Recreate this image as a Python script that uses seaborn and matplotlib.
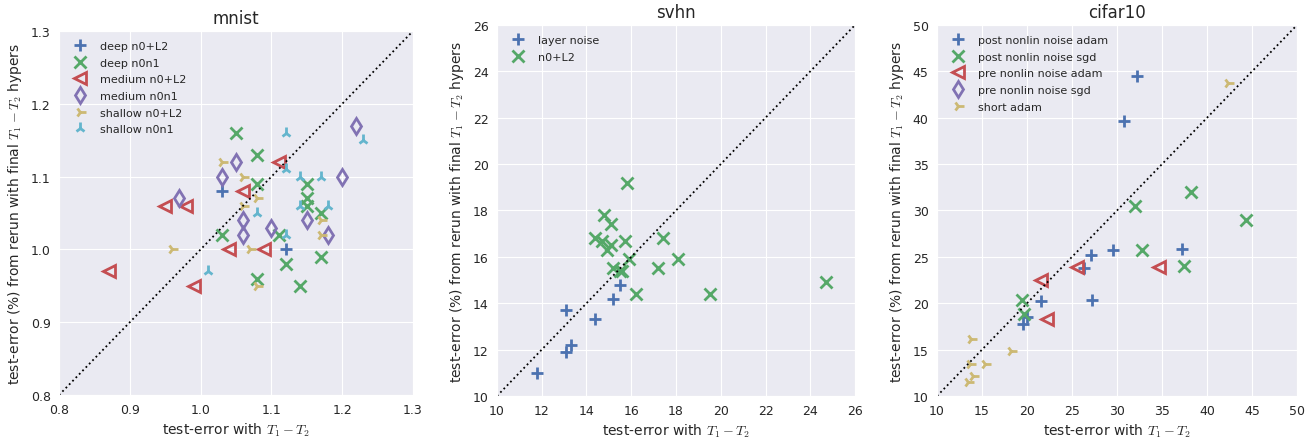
import matplotlib
matplotlib.use('Agg')
import matplotlib.pyplot as plt
import seaborn as sns

# --- mnist ---
mn_deep_l2_x = [1.03, 1.12]
mn_deep_l2_y = [1.08, 1.00]
mn_deep_n1_x = [1.05, 1.08, 1.08, 1.03, 1.11, 1.12, 1.08, 1.14, 1.15, 1.15, 1.15, 1.17, 1.17]
mn_deep_n1_y = [1.16, 1.13, 1.09, 1.02, 1.02, 0.98, 0.96, 0.95, 1.09, 1.07, 1.06, 1.05, 0.99]
mn_med_l2_x = [1.11, 1.06, 0.95, 0.98, 1.04, 1.09, 0.87, 0.99]
mn_med_l2_y = [1.12, 1.08, 1.06, 1.06, 1.00, 1.00, 0.97, 0.95]
mn_med_n1_x = [1.22, 1.05, 1.03, 0.97, 1.20, 1.06, 1.06, 1.10, 1.15, 1.18]
mn_med_n1_y = [1.17, 1.12, 1.10, 1.07, 1.10, 1.04, 1.02, 1.03, 1.04, 1.02]
mn_sh_l2_x = [1.03, 1.06, 1.08, 1.06, 0.96, 1.07, 1.08, 1.17, 1.17]
mn_sh_l2_y = [1.12, 1.10, 1.07, 1.06, 1.00, 1.00, 0.95, 1.04, 1.02]
mn_sh_n1_x = [1.12, 1.12, 1.14, 1.17, 1.23, 1.14, 1.18, 1.08, 1.12, 1.01]
mn_sh_n1_y = [1.16, 1.11, 1.10, 1.10, 1.15, 1.06, 1.06, 1.05, 1.02, 0.97]

# --- svhn ---
sv_layer_x = [11.8, 13.1, 13.1, 13.3, 14.4, 15.2, 15.5]
sv_layer_y = [11.0, 13.7, 11.9, 12.2, 13.3, 14.2, 14.8]
sv_l2_x = [15.8, 14.8, 15.1, 14.4, 14.7, 15.1, 14.9, 15.7, 17.4, 15.9, 15.2, 15.5, 15.6, 17.2, 18.1, 16.2, 19.5, 24.7]
sv_l2_y = [19.2, 17.8, 17.4, 16.8, 16.7, 16.5, 16.3, 16.7, 16.8, 15.9, 15.5, 15.4, 15.4, 15.5, 15.9, 14.4, 14.4, 14.9]

# --- cifar10 ---
cf_post_adam_x = [32.2, 30.8, 37.2, 29.6, 27.1, 26.3, 27.2, 21.5, 20.0, 19.5]
cf_post_adam_y = [44.5, 39.6, 25.9, 25.7, 25.2, 23.8, 20.3, 20.2, 18.5, 17.8]
cf_post_sgd_x = [38.2, 32.0, 44.3, 32.8, 37.4, 19.4, 19.7]
cf_post_sgd_y = [32.0, 30.5, 29.0, 25.7, 24.0, 20.4, 18.8]
cf_pre_adam_x = [25.5, 34.7, 21.5, 22.2]
cf_pre_adam_y = [23.9, 23.9, 22.5, 18.3]
cf_pre_sgd_x = []
cf_pre_sgd_y = []
cf_short_x = [42.3, 13.8, 18.2, 13.7, 15.3, 14.0, 13.4]
cf_short_y = [43.7, 16.1, 14.9, 13.4, 13.4, 12.2, 11.5]

sns.set_style('darkgrid')
plt.rcParams['font.family'] = ['DejaVu Sans']
plt.rcParams['mathtext.fontset'] = 'cm'
pal = sns.color_palette('deep6')
markers = ['+', 'x', '<', 'd', '4', '2']

panels = [
    ('mnist', (0.8, 1.3), [0.8, 0.9, 1.0, 1.1, 1.2, 1.3],
     [0.045, 0.0979, 0.2698, 0.8292],
     [('deep n0+L2', mn_deep_l2_x, mn_deep_l2_y),
      ('deep n0n1', mn_deep_n1_x, mn_deep_n1_y),
      ('medium n0+L2', mn_med_l2_x, mn_med_l2_y),
      ('medium n0n1', mn_med_n1_x, mn_med_n1_y),
      ('shallow n0+L2', mn_sh_l2_x, mn_sh_l2_y),
      ('shallow n0n1', mn_sh_n1_x, mn_sh_n1_y)]),
    ('svhn', (10, 26), list(range(10, 27, 2)),
     [0.3788, 0.0957, 0.2729, 0.8451],
     [('layer noise', sv_layer_x, sv_layer_y),
      ('n0+L2', sv_l2_x, sv_l2_y)]),
    ('cifar10', (10, 50), list(range(10, 51, 5)),
     [0.7142, 0.0957, 0.2744, 0.8451],
     [('post nonlin noise adam', cf_post_adam_x, cf_post_adam_y),
      ('post nonlin noise sgd', cf_post_sgd_x, cf_post_sgd_y),
      ('pre nonlin noise adam', cf_pre_adam_x, cf_pre_adam_y),
      ('pre nonlin noise sgd', cf_pre_sgd_x, cf_pre_sgd_y),
      ('short adam', cf_short_x, cf_short_y)]),
]

fig = plt.figure(figsize=(13.12, 4.39), dpi=100)
for title, lim, ticks, pos, series in panels:
    ax = fig.add_axes(pos)
    for i, (lab, xs, ys) in enumerate(series):
        m = markers[i]
        hollow = m in ('<', 'd')
        ax.plot(xs, ys, linestyle='none', marker=m, markersize=8, mew=2,
                color=pal[i], mfc='none' if hollow else pal[i], label=lab)
    ax.plot(lim, lim, 'k:', lw=1.3)
    ax.set_xlim(lim)
    ax.set_ylim(lim)
    ax.set_xticks(ticks)
    ax.set_yticks(ticks)
    ax.tick_params(labelsize=9, length=0, pad=6)
    ax.set_title(title, fontsize=12)
    ax.set_xlabel('test-error with $T_1-T_2$', fontsize=10, labelpad=3)
    ax.set_ylabel('test-error (%) from rerun with final $T_1-T_2$ hypers',
                  fontsize=10, labelpad=5)
    ax.legend(loc='upper left', fontsize=8, numpoints=1, frameon=False,
              labelspacing=0.6)

fig.savefig('out.png', dpi=100)
